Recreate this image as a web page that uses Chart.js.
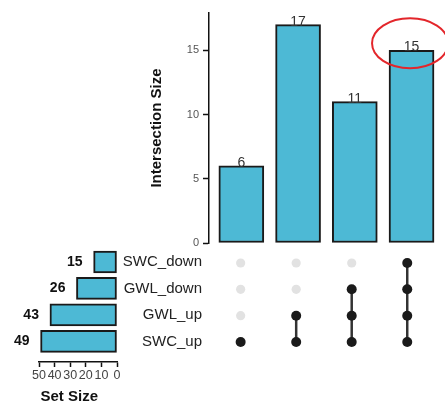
<!DOCTYPE html>
<html>
<head>
<meta charset="utf-8">
<script src="https://cdn.jsdelivr.net/npm/chart.js@4"></script>
<style>
  body { margin: 0; background: #fff; }
  #wrap { position: relative; width: 445px; height: 401px; overflow: hidden; }
  canvas { position: absolute; left: 0; top: 0; }
</style>
</head>
<body>
<div id="wrap">
  <canvas id="bars" width="445" height="401"></canvas>
  <canvas id="matrix" width="445" height="401"></canvas>
  <canvas id="sets" width="445" height="401"></canvas>
</div>
<script>
// ── data ──────────────────────────
const setNames = ['SWC_down', 'GWL_down', 'GWL_up', 'SWC_up'];   // top to bottom
const setSizes = [15, 26, 43, 49];
const intersectionSizes = [6, 17, 11, 15];
const intersectionSets = [
  ['SWC_up'],
  ['GWL_up', 'SWC_up'],
  ['GWL_down', 'GWL_up', 'SWC_up'],
  ['SWC_down', 'GWL_down', 'GWL_up', 'SWC_up']
];

const barColor = '#4db9d5';
const FONT = '"Liberation Sans", Arial, sans-serif';

Chart.defaults.font.family = FONT;
Chart.defaults.animation = false;
Chart.defaults.plugins.legend.display = false;
Chart.defaults.plugins.tooltip.enabled = false;

// row 0 is the bottom set, column 1 the first intersection
const rowOf = name => setNames.length - 1 - setNames.indexOf(name);
const colOf = i => i + 1;

// ── labels above intersection bars + red ring ──────────────────────────
const barLabels = {
  id: 'barLabels',
  afterDatasetsDraw(chart) {
    const ctx = chart.ctx;
    const bars = chart.getDatasetMeta(0).data;
    ctx.save();
    ctx.font = '14px ' + FONT;
    ctx.fillStyle = '#333';
    ctx.textAlign = 'center';
    ctx.textBaseline = 'alphabetic';
    bars.forEach((bar, i) => ctx.fillText(intersectionSizes[i], bar.x, bar.y + 1));
    const last = bars[bars.length - 1];
    ctx.strokeStyle = '#e3262b';
    ctx.lineWidth = 2;
    ctx.beginPath();
    ctx.ellipse(last.x - 1.5, last.y - 7, 38, 25, 0, 0, Math.PI * 2);
    ctx.stroke();
    ctx.restore();
  }
};

// ── labels left of set size bars, axis title ──────────────────────────
const setLabels = {
  id: 'setLabels',
  afterDatasetsDraw(chart) {
    const ctx = chart.ctx;
    ctx.save();
    ctx.font = 'bold 14px ' + FONT;
    ctx.fillStyle = '#111';
    ctx.textAlign = 'right';
    ctx.textBaseline = 'middle';
    chart.getDatasetMeta(0).data.forEach((bar, i) => ctx.fillText(setSizes[i], bar.x - 11, bar.y));
    // title sits left-aligned under the reversed axis
    const xs = chart.scales.x;
    ctx.font = 'bold 15px ' + FONT;
    ctx.textAlign = 'left';
    ctx.textBaseline = 'alphabetic';
    ctx.fillText('Set Size', xs.left + 1.5, xs.bottom - 0.5);
    ctx.restore();
  }
};

// ── intersection size bars ──────────────────────────
new Chart(document.getElementById('bars'), {
  type: 'bar',
  data: {
    datasets: [{
      data: intersectionSizes.map((v, i) => ({ x: colOf(i), y: v })),
      backgroundColor: barColor,
      borderColor: '#1a1a1a',
      borderWidth: 2,
      borderSkipped: false,
      barThickness: 45
    }]
  },
  options: {
    responsive: false,
    layout: { padding: { left: 144, right: 0, top: 13, bottom: 158 } },
    scales: {
      x: { type: 'linear', min: 0.43, max: 4.59, offset: false, display: false },
      y: {
        min: 0, max: 17.9,
        afterFit: s => { s.width = 65; },
        border: { display: true, color: '#111', width: 1.5 },
        grid: { drawOnChartArea: false, tickLength: 6, tickColor: '#111', tickWidth: 1.5 },
        ticks: { stepSize: 5, includeBounds: false, padding: 4, color: '#555', font: { size: 11 } },
        title: { display: true, text: 'Intersection Size', color: '#111', font: { size: 15, weight: 'bold' } }
      }
    }
  },
  plugins: [barLabels]
});

// ── matrix of dots ──────────────────────────
const memberPoints = intersectionSets.map((sets, i) => sets.map(s => ({ x: colOf(i), y: rowOf(s) })));
const emptyPoints = [];
intersectionSets.forEach((sets, i) => {
  setNames.forEach(s => { if (!sets.includes(s)) emptyPoints.push({ x: colOf(i), y: rowOf(s) }); });
});

new Chart(document.getElementById('matrix'), {
  type: 'scatter',
  data: {
    datasets: [
      ...memberPoints.map(pts => ({
        data: pts, showLine: true, borderColor: '#333', borderWidth: 2.5,
        pointRadius: 5, pointBackgroundColor: '#1a1a1a', pointBorderWidth: 0, order: 1
      })),
      { data: emptyPoints, showLine: false, pointRadius: 4.6, pointBackgroundColor: '#e2e2e2', pointBorderWidth: 0, order: 2 }
    ]
  },
  options: {
    responsive: false,
    layout: { padding: { left: 209, right: 0, top: 249.8, bottom: 45.8 } },
    scales: {
      x: { type: 'linear', min: 0.43, max: 4.59, display: false },
      y: { type: 'linear', min: -0.5, max: 3.5, display: false }
    }
  }
});

// ── set size bars ──────────────────────────
new Chart(document.getElementById('sets'), {
  type: 'bar',
  data: {
    datasets: [{
      data: setSizes.map((v, i) => ({ x: v, y: rowOf(setNames[i]) })),
      backgroundColor: barColor,
      borderColor: '#1a1a1a',
      borderWidth: 2,
      borderSkipped: false,
      barThickness: 22
    }]
  },
  options: {
    indexAxis: 'y',
    responsive: false,
    layout: { padding: { left: 39, right: 243, top: 248.75, bottom: 0 } },
    scales: {
      x: {
        type: 'linear', reverse: true, min: 0, max: 50,
        afterFit: s => { s.height = 39; },
        border: { color: '#111', width: 1.5 },
        grid: { drawOnChartArea: false, tickLength: 5, tickColor: '#111', tickWidth: 1.5 },
        ticks: { stepSize: 10, autoSkip: false, maxRotation: 0, padding: 1, color: '#444', font: { size: 12.5 } }
      },
      y: {
        type: 'linear', position: 'right', min: -0.78, max: 3.5, offset: false,
        afterFit: s => { s.width = 85; },
        border: { display: false },
        grid: { display: false },
        ticks: {
          stepSize: 1, includeBounds: false, crossAlign: 'far', color: '#222', font: { size: 15 },
          callback: v => setNames[setNames.length - 1 - v]
        }
      }
    }
  },
  plugins: [setLabels]
});
</script>
</body>
</html>
